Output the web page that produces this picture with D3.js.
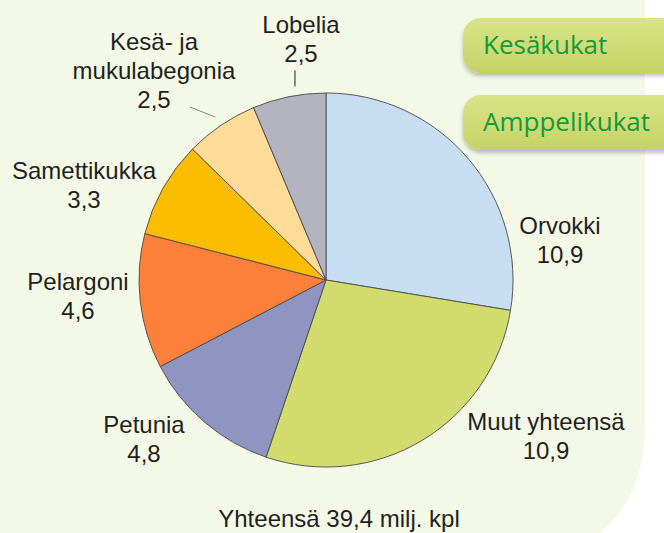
<!DOCTYPE html>
<html>
<head>
<meta charset="utf-8">
<script src="https://cdn.jsdelivr.net/npm/d3@7/dist/d3.min.js"></script>
<style>
  body { margin: 0; background: #fff; }
  svg { display: block; }
  .lbl { font-family: "Liberation Sans", Arial, sans-serif; font-size: 24px; fill: #231f20; }
  .btn { font-family: "Open Sans", "Noto Sans", sans-serif; font-size: 26px; fill: #15993a; }
</style>
</head>
<body>
<svg id="chart" width="664" height="533"></svg>
<script>
/*global d3*/

// data (milj. kpl)
var names = [["Orvokki"], ["Muut yhteensä"], ["Petunia"], ["Pelargoni"], ["Samettikukka"], ["Kesä- ja", "mukulabegonia"], ["Lobelia"]];
var values = [10.9, 10.9, 4.8, 4.6, 3.3, 2.5, 2.5];
var valueLabels = ["10,9", "10,9", "4,8", "4,6", "3,3", "2,5", "2,5"];
var colors = ["#c7ddf2", "#d2dc6d", "#8f95c0", "#fc7f3a", "#fbbd00", "#fedb97", "#b3b4bf"];
var buttons = ["Kesäkukat", "Amppelikukat"];
var totalText = "Yhteensä 39,4 milj. kpl";

// label anchors (center x, first baseline)
var labelPos = [[560, 234], [546, 430], [144, 433], [78, 290], [84, 179], [154, 50], [301, 33]];

var svg = d3.select("#chart");
var cx = 326, cy = 280, r = 187, lineH = 29;

var defs = svg.append("defs");
var grad = defs.append("linearGradient").attr("id", "btnGrad")
    .attr("x1", 0).attr("y1", 0).attr("x2", 0).attr("y2", 1);
grad.append("stop").attr("offset", "0%").attr("stop-color", "#d9e487");
grad.append("stop").attr("offset", "100%").attr("stop-color", "#c4d366");
defs.append("filter").attr("id", "shadow")
    .attr("x", "-20%").attr("y", "-20%").attr("width", "140%").attr("height", "160%")
  .append("feDropShadow")
    .attr("dx", 0).attr("dy", 3).attr("stdDeviation", 2)
    .attr("flood-color", "#000").attr("flood-opacity", 0.25);

// background panel
svg.append("path")
    .attr("d", "M0,0 H645 V425 C645,480 625,515 592,540 H0 Z")
    .attr("fill", "#f4f9e7");

// pie
var pie = d3.pie().sort(null).value(d => d);
var arcs = pie(values);
var arc = d3.arc().innerRadius(0).outerRadius(r);

var g = svg.append("g").attr("transform", `translate(${cx},${cy})`);
g.selectAll("path.slice")
    .data(arcs)
  .enter().append("path")
    .attr("class", "slice")
    .attr("d", arc)
    .attr("fill", (d, i) => colors[i])
    .attr("stroke", "#4a4a4a")
    .attr("stroke-width", 0.9)
    .attr("stroke-linejoin", "round");

// leader lines for the two small slices at the top
function pt(a, rad) { return [cx + rad * Math.sin(a), cy - rad * Math.cos(a)]; }
var begonia = arcs[5], lobelia = arcs[6];
var bMid = (begonia.startAngle + begonia.endAngle) / 2;
var b0 = pt(bMid, r + 10), b1 = pt(bMid - 0.07, r + 33);
svg.append("line")
    .attr("x1", b0[0]).attr("y1", b0[1]).attr("x2", b1[0]).attr("y2", b1[1])
    .attr("stroke", "#8a8a8a").attr("stroke-width", 1);
var lMid = (lobelia.startAngle + lobelia.endAngle) / 2;
var l0 = pt(lMid + 0.04, r + 9);
svg.append("line")
    .attr("x1", l0[0]).attr("y1", l0[1]).attr("x2", l0[0]).attr("y2", l0[1] - 16)
    .attr("stroke", "#231f20").attr("stroke-width", 1);

// labels
names.forEach(function(n, i) {
  var t = svg.append("text").attr("class", "lbl").attr("text-anchor", "middle");
  n.concat([valueLabels[i]]).forEach(function(s, k) {
    t.append("tspan").attr("x", labelPos[i][0]).attr("y", labelPos[i][1] + k * lineH).text(s);
  });
});

svg.append("text").attr("class", "lbl").attr("text-anchor", "middle")
    .attr("x", 339).attr("y", 527).text(totalText);

// buttons
var bg = svg.selectAll("g.button")
    .data(buttons)
  .enter().append("g")
    .attr("class", "button")
    .attr("transform", (d, i) => `translate(463,${18 + i * 77})`);
bg.append("rect")
    .attr("width", 240).attr("height", 55).attr("rx", 18)
    .attr("fill", "url(#btnGrad)")
    .attr("filter", "url(#shadow)");
bg.append("text").attr("class", "btn")
    .attr("x", 20).attr("y", 36).text(d => d);
</script>
</body>
</html>
